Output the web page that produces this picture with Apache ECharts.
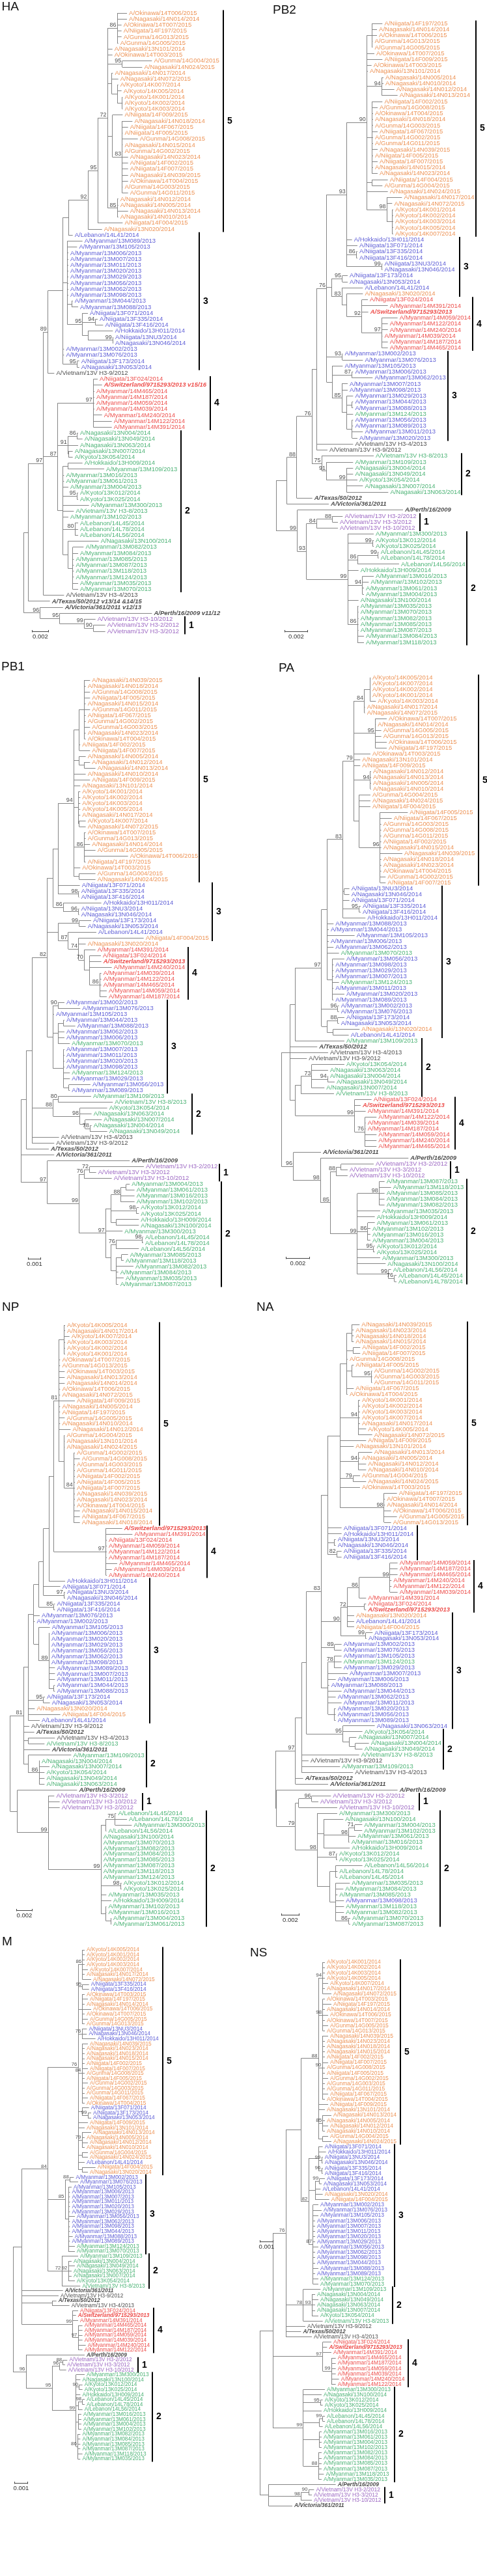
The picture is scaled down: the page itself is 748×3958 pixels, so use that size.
<!DOCTYPE html>
<html><head><meta charset="utf-8">
<script src="https://cdn.jsdelivr.net/npm/echarts/dist/echarts.min.js"></script>
<style>html,body{margin:0;padding:0;background:#fff}#c{width:748px;height:3958px}</style>
</head><body><div id="c"></div>
<script>
// ---------------- DATA ----------------
const ORANGE_STRAINS = ['A/Okinawa/14T006/2015','A/Nagasaki/14N014/2014','A/Okinawa/14T007/2015','A/Niigata/14F197/2015','A/Gunma/14G013/2015','A/Gunma/14G005/2015','A/Nagasaki/13N101/2014','A/Okinawa/14T003/2015','A/Gunma/14G004/2015','A/Nagasaki/14N024/2015','A/Nagasaki/14N017/2014','A/Nagasaki/14N072/2015','A/Kyoto/14K007/2014','A/Kyoto/14K005/2014','A/Kyoto/14K001/2014','A/Kyoto/14K002/2014','A/Kyoto/14K003/2014','A/Niigata/14F009/2015','A/Nagasaki/14N018/2014','A/Niigata/14F067/2015','A/Niigata/14F005/2015','A/Gunma/14G008/2015','A/Nagasaki/14N015/2014','A/Gunma/14G002/2015','A/Nagasaki/14N023/2014','A/Niigata/14F002/2015','A/Niigata/14F007/2015','A/Nagasaki/14N039/2015','A/Okinawa/14T004/2015','A/Gunma/14G003/2015','A/Gunma/14G011/2015','A/Nagasaki/14N012/2014','A/Nagasaki/14N005/2014','A/Nagasaki/14N013/2014','A/Nagasaki/14N010/2014','A/Niigata/14F004/2015','A/Nagasaki/13N020/2014'];
const BLUE_STRAINS = ['A/Lebanon/14L41/2014','A/Myanmar/13M089/2013','A/Myanmar/13M105/2013','A/Myanmar/13M006/2013','A/Myanmar/13M007/2013','A/Myanmar/13M011/2013','A/Myanmar/13M020/2013','A/Myanmar/13M029/2013','A/Myanmar/13M056/2013','A/Myanmar/13M062/2013','A/Myanmar/13M098/2013','A/Myanmar/13M044/2013','A/Myanmar/13M088/2013','A/Niigata/13F071/2014','A/Niigata/13F335/2014','A/Niigata/13F416/2014','A/Hokkaido/13H011/2014','A/Niigata/13NU3/2014','A/Nagasaki/13N046/2014','A/Myanmar/13M002/2013','A/Myanmar/13M076/2013','A/Niigata/13F173/2014','A/Nagasaki/13N053/2014'];
const RED_STRAINS = ['A/Niigata/13F024/2014','A/Switzerland/9715293/2013','A/Myanmar/14M465/2014','A/Myanmar/14M187/2014','A/Myanmar/14M059/2014','A/Myanmar/14M039/2014','A/Myanmar/14M240/2014','A/Myanmar/14M122/2014','A/Myanmar/14M391/2014'];
const GREEN_STRAINS = ['A/Nagasaki/13N004/2014','A/Nagasaki/13N049/2014','A/Nagasaki/13N063/2014','A/Nagasaki/13N007/2014','A/Kyoto/13K054/2014','A/Hokkaido/13H009/2014','A/Myanmar/13M109/2013','A/Myanmar/13M016/2013','A/Myanmar/13M061/2013','A/Myanmar/13M004/2013','A/Kyoto/13K012/2014','A/Kyoto/13K025/2014','A/Myanmar/13M300/2013','A/Vietnam/13V H3-8/2013','A/Myanmar/13M102/2013','A/Lebanon/14L45/2014','A/Lebanon/14L78/2014','A/Lebanon/14L56/2014','A/Nagasaki/13N100/2014','A/Myanmar/13M082/2013','A/Myanmar/13M084/2013','A/Myanmar/13M085/2013','A/Myanmar/13M087/2013','A/Myanmar/13M118/2013','A/Myanmar/13M124/2013','A/Myanmar/13M035/2013','A/Myanmar/13M070/2013'];
const PURPLE_STRAINS = ['A/Vietnam/13V H3-10/2012','A/Vietnam/13V H3-2/2012','A/Vietnam/13V H3-3/2012'];
const BLACK_STRAINS = ['A/Vietnam/13V H3-9/2012','A/Vietnam/13V H3-4/2013'];
const REFERENCE_STRAINS = ['A/Texas/50/2012','A/Victoria/361/2011','A/Perth/16/2009'];
const VACCINE_KEYS = ['Switzerland','Texas','Victoria','Perth'];
const HA_SUFFIX = {Switzerland:' v15/16', Texas:' v13/14 &14/15', Victoria:' v12/13', Perth:' v11/12'};

// Trees: (children)bootstrap:divergence-from-root ; leaf key:divergence ; divergence units given by *_SCALE
const HA_SCALE = {units:75, label:'0.002'};
const HA_TREE = `(
 (
  (
   (
    (
     (
      (
       (
        (
         (14T006:475,14N014:475,14T007:450,14F197:450,14G013:450,14G005:435)86:430,
         13N101:408,14T003:408,
         (14G004:590,14N024:545)95:453,
         (14N017:410,14N072:435,(14K007:435,14K005:450,(14K001:455,14K002:455,14K003:455):453):430):405,
         (14F009:455,(14N018:500,14F067:480,14F005:455,14G008:525,14N015:455,14G002:455,14N023:480,14F002:480,14F007:480,14N039:480,14T004:480,14G003:455,14G011:480)83:453):408,
         (14N012:435,14N005:435,14N013:480,14N010:435)85:430
        )72:385,
        14F004:455
       )95:340,
       13N020:360
      )92:295,
      14L41:225
     ):205,
     (13M089:270,13M105:245,13M006:205,13M007:205,13M011:205,13M020:205,13M029:205,13M056:205,13M062:205,13M098:205,
      (13M044:225,13M088:250):220,
      (13F071:295,(13F335:340,13F416:365)94:330,(13H011:410,(13NU3:412,13N046:412)99:410):295)95:270
     ):200,
     13M002:185,13M076:185,
     (13F173:255,13N053:255)95:245
    ):180,
    H3-9:140
   )89:110,
   (
    (13F024:340,Switzerland:360,14M465:325,14M187:325,14M059:325,14M039:325,14M240:360,14M122:405,14M391:405)97:320,
    ((13N004:250,13N049:270)86:245,13N063:250,(13N007:225,13K054:225):205)91:203,
    (
     (13H009:270,13M109:370):203,
     13M016:185,13M061:185,13M004:205,
     (13K012:250,13K025:250)95:245,
     13M300:300,H3-8:230,13M102:205,
     (14L45:250,14L78:250,14L56:250)80:235,
     (13N100:345,(13M082:275,13M084:250,13M085:230,13M087:230,13M118:230,13M124:230,13M035:250,13M070:250):225):203
    ):180
   )87:155,
   H3-4:185
  )97:90,
  Texas:120
 ):20,
 (Victoria:180,(Perth:590,(H3-10:330,(H3-2:375,H3-3:375)90:320)99:278)95:165)96:75
)`;
const HA_CLADES = [['5','14T006','13N020'],['3','14L41','13N053'],['4','13F024','14M391'],['2','13N004','13M070'],['1','H3-10','H3-3']];

const PB2_SCALE = {units:106, label:'0.002'};
const PB2_TREE = `(
 (
  (
   (
    (
     (
      (
       (
        (14F197:490,14N014:465,14T006:465,14G013:445,14G005:445):442,
        14T007:453,14F009:490,14T003:440,13N101:423,
        (14N005:495,14N010:495,14N012:545,14N013:560)94:487,
        (14F002:490,14G008:468,14T004:447,14N018:447,14G003:447,14F067:468,14G002:447,14G011:447,14N039:468,14F005:447,14F007:468,14N015:447,14N023:468):442,
        (14F004:515,14G004:490):442,
        14N024:515,
        (14N017:580,14N072:535,(14K001:540,14K002:540,14K003:540,14K005:540,14K007:540):535)98:510
       )90:418,
       13H011:350,13F071:375,
       (13F335:375,13F416:375)86:370,
       (13NU3:490,13N046:490)99:487
      )93:325,
      (
       (13F173:330,13N053:330)95:305,
       (14L41:400,(13N020:400,(13F024:423,14M391:515,Switzerland:425,(14M059:560,14M122:515,14M240:515,14M039:490,14M187:515,14M465:515)97:487)92:395):325)83:303
      ):255,
      (13M002:307,13M076:400)93:305,
      (13M105:307,(13M006:355,13M062:445)87:350,(13M007:330,13M098:330,(13M029:355,(13M044:355,13M088:355):350,13M124:355,(13M056:355,13M089:355,13M011:400,13M020:375):350):325)85:303):258
     )76:233,
     H3-4:355,
     H3-9:237
    ):187,
    (H3-8:450,(13M109:355,(13N004:355,13N049:355,13K054:375,13N007:400,13N063:517)99:325)91:233)75:210
   )76:165,
   Texas:167
  )88:95,
  Victoria:243
 ):50,
 (
  Perth:585,
  (
   ((H3-2:307,H3-3:285)88:260,H3-10:285)84:187,
   (13M300:450,(13K012:450,13K025:450)99:445,((14L45:473,14L78:473)99:470,14L56:567)86:375,13H009:380,(13M016:450,13M102:427,13M061:405,13M004:405)94:398,13N100:380,(13M035:380,13M070:380,13M082:380,13M085:380,13M087:380,13M084:405,13M118:405)86:375)99:330
  )93:140
 )99:98
)`;
const PB2_CLADES = [['5','14F197','14K007'],['3','13H011','13N020'],['4','13F024','14M465'],['3','13M002','13M020'],['2','H3-8','13N063'],['1','H3-2','H3-10'],['2','13M300','13M118']];

const PB1_SCALE = {units:57, label:'0.001'};
const PB1_TREE = `(
 (
  (
   (
    (
     (
      (
       (
        (14N039:318,14N018:298,14G008:318,14F005:318,14N015:298,14G011:318,14F067:298,14G002:298,14G003:318,14N023:298,14T004:298):291,
        14F002:273,14F007:318
       ):268,
       (14N005:298,(14N012:318,14N013:343):291):268,
       14N010:298,14F009:318,13N101:273,
       (14K001:273,14K002:273,14K003:273,14K005:273,14N017:273,(14K007:298,14N072:298):268):265,
       (14T007:298,14G013:298,14N014:318,14G005:343,14T006:493,14F197:298)86:291,
       14T003:273,
       (14G004:343,14N024:343):268
      )94:243,
      13F071:271,
      (13F335:268,13F416:268)98:266
     ):171,
     (13H011:370,(13NU3:268,13N046:268)96:265)86:195
    ):148,
    (
     (13F173:323,13N053:298)99:268,
     (14L41:347,(14F004:565,13N020:298,(14M391:343,(13F024:368,Switzerland:370,14M240:418,(14M039:370,14M122:370,14M465:370,14M059:395,14M187:395)86:363):316)70:291)74:265)87:218
    ):171,
    (
     (13M002:200,13M076:273)90:171,
     13M105:152,
     ((13M044:200,13M088:250):196,13M062:200,13M006:200,13M070:225):171,
     (13M007:200,13M011:200,13M020:200,13M098:200,13M124:225,13M029:225,(13M056:320,13M089:225):221):196
    ):148
   )82:121,
   ((13M109:323,H3-8:423)80:171,(13K054:397,13N063:325,(13N007:372,(13N004:325,13N049:397)78:318):296)98:271)88:148,
   H3-4:175,
   H3-9:153
  ):51,
  Texas:128
 ):26,
 Victoria:153,
 (
  Perth:501,
  (
   ((H3-2:566,H3-3:346)72:316,H3-10:418)76:291,
   (
    (((13M004:501,13M061:523):485,13M016:523,13M102:523)88:461,(13K012:543,13K025:543)98:533,(13H009:543,13N100:543):438):415,
    13M300:468,
    (((14L45:563,14L78:563)98:560,14L56:543)76:438,((13M085:493,13M118:473):463,13M082:518,13M084:448,13M035:473,13M087:448):438):415
   )97:390
  )99:268
 )97:121
)`;
const PB1_CLADES = [['5','14N039','14N024'],['3','13F071','14F004'],['4','14M391','14M187'],['3','13M002','13M089'],['2','13M109','13N049'],['1','H3-2','H3-10'],['2','13M004','13M087']];

const PA_SCALE = {units:107, label:'0.002'};
const PA_TREE = `(
 (
  (
   (
    (
     (
      (
       ((14K005:410,14K007:410,14K002:410,14K001:410,14K003:435):408,14N017:385,14N072:385)84:382,
       (14T007:485,14N014:435,14G005:460,14G013:460,14T006:485,14F197:485)95:432,
       14T003:410,13N101:363,14F009:363,
       (14N012:413,14N013:413,14N005:413,14N010:413)94:410,
       (14G004:410,14N024:410,14F004:410,(14F005:582,14F067:508,14G003:460,14G008:460,14G011:460,14F002:460,14N015:460,14N039:557,14N018:460,14N023:460,14T004:460,14G002:480,14F007:480)96:455):358
      )79:333,
      (13NU3:313,13N046:313):290,
      13F071:313,
      (13F335:365,13F416:365)95:358,
      13H011:387
     )83:283,
     13M088:240,13M044:218,13M105:337,13M006:218,13M062:240,13M070:265,
     (13M056:290,13M098:240,13M029:240,13M007:240,13M124:265,13M011:240,13M020:290,13M089:240):235
    ):210,
    (13M002:265,13M076:265)96:260,
    ((13F173:290,13N053:265)88:260,(13N020:360,14L41:310):238):210
   )97:185,
   13M109:290
  ):63,
  Texas:165,
  H3-4:215,
  H3-9:117,
  (((13K054:290,13N063:215,(13N004:215,13N049:245)94:213,13N007:198)73:140,H3-8:242):90,(13F024:415,Switzerland:365,14M391:388,(14M122:438,14M039:388,14M187:388,14M059:438,14M240:438,14M465:438)76:385)99:337):65
 ):40,
 (
  Victoria:182,
  (
   Perth:585,
   (
    ((H3-2:425,H3-3:305):275,H3-10:305)88:253,
    ((13M087:475,13M118:505,13M085:475,13M084:475,13M082:475)98:450,13M035:455,13H009:430,(13M061:430,13M102:410,13M016:410,13M004:410)86:398,(13K012:430,13K025:430)95:425,13M300:455,13N100:480,(14L56:505,(14L45:530,14L78:530)76:520)99:493)99:350
   )85:225
  )98:180
 )96:55
)`;
const PA_CLADES = [['5','14K005','14F007'],['3','13NU3','14L41'],['2','13M109','H3-8'],['4','13F024','14M465'],['1','H3-2','H3-10'],['2','13M087','14L78']];

const NP_SCALE = {units:72, label:'0.002'};
const NP_TREE = `(
 (
  (
   (
    (
     (
      (
       (
        (
         (14K005:253,14N017:253,14K007:273,14K003:253,14K002:253,14K001:253):248,
         14T007:230,14G013:230,14T003:251,14N013:251,14N014:251,14T006:230,14N072:230,14F009:298,14N005:230,14F197:230,14G005:251,14N010:230,14N012:278,
         (14G004:251,13N101:251,14N024:251,(14G002:298,14G008:321,14G003:298,14G011:298,14F002:298,14F005:298,14F007:298,14N039:298,14N023:298,14T004:298,14N015:321,14F067:321,14N018:321)84:293):248
        )81:223,
        (Switzerland:516,14M391:563,13F024:445,14M059:445,14M122:445,14M187:445,14M465:493,14M039:468,14M240:445)97:440
       ):201,
       13H011:253
      ):178,
      13F071:231,
      (13NU3:253,13N046:253)97:248
     ):153,
     (13F335:206,13F416:206)85:201
    ):131,
    13M076:136,
    13M002:113,
    (13M105:183,(13M006:181,13M020:181,13M029:181,13M056:181,13M062:181,13M098:181,13M089:206,13M007:206,13M011:206,(13M044:206,13M088:206):201)89:178):131
   ):108,
   (13F173:160,13N053:183)95:153,
   13N020:113,
   14F004:231,
   14L41:136
  ):83,
  H3-9:88,
  Texas:111,
  (H3-4:206,H3-8:158):83,
  Victoria:183,
  (13M109:281,(13N004:136,13N007:181,13K054:158,13N049:158,13N063:158)86:133):83
 )81:61,
 (
  Perth:308,
  (
   H3-3:203,H3-10:228,H3-2:228,
   (((14L45:488,14L78:538,13M300:560)75:483,14L56:443):440,13N100:420,13M070:420,13M082:420,13M084:420,13M085:420,13M087:420,13M118:420,13M124:420,(13K012:513,13K025:513)98:508,13M035:443,13H009:466,(13M102:443,13M016:443,(13M004:466,13M061:466):463):441)99:418
  )99:175
 ):33
)`;
const NP_CLADES = [['5','14K005','14N018'],['4','Switzerland','14M240'],['3','13H011','14L41'],['2','H3-8','13N063'],['1','H3-3','H3-2'],['2','14L45','13M061']];

const NA_SCALE = {units:81, label:'0.002'};
const NA_TREE = `(
 (
  (
   (
    (
     (
      (
       ((14N039:387,14N023:360,14N018:360,14N015:360):352,(14F002:390,14F007:390):357,14G008:332,(14F005:360,(14G002:445,14G003:445,14G011:445)95:442):352,14F067:360,14T004:332):327,
       (14K001:389,14K002:389,14K003:389,14K007:389,14N017:389,14K005:417,14N072:445)94:382,
       14F009:417,13N101:360,
       (14N013:445,14N005:389,14N012:417,14N010:417)94:382,
       (14G004:389,14N024:417)79:357,
       14T003:389,
       (14F197:559,14T007:504,14N014:504,14T006:532,14G005:559,14G013:532)98:500
      ):297,
      13F071:304,13H011:304,
      (13NU3:277,13N046:277):270,
      (13F335:304,13F416:304)82:282
     ):240,
     ((((14M059:562,14M187:562,14M465:562,14M240:534,14M122:534,14M039:562)99:527,14M391:417)86:385,(13F024:417,Switzerland:417):410,13N020:362,14L41:362,14F004:362)72:330,(13F173:447,13N053:419)99:415)90:300,
     (13M002:304,13M076:304)89:272,
     ((13M105:304,13M124:304,13M029:304)78:270,13M007:332,13M006:277,13M088:247,13M044:304,13M062:277,13M011:304,(13M020:277,13M056:277,13M089:277):270):242
    )83:210,
    (13N063#b:457,13K054:400,(13N007:372,(13N004:430,13N049:400):367):340)95:310
   ):142,
   H3-8:385,H3-9:152,13M109:297,H3-4:357
  ):120,
  Texas:127,
  Victoria:242
 )97:92,
 (
  Perth:562,
  (
   ((H3-2:255,H3-3:197)96:167,H3-10:284):107,
   (13M300:284,(13N100:312,((13M004:399,13M102:399)71:365,13M061:369,13M016:340)98:337,13H009:342):222,(13K012:284,13K025:284)87:280,((14L56:400,14L78:285,14L45:285):277,(13M035:342,13M084:312,13M085:285,13M098:315,13M118:315,13M082:315,(13M070:344,13M087:344)86:337):277):250)98:192
  )79:92
 ):5
)`;
const NA_CLADES = [['5','14N039','14G013'],['','13F071','13F416'],['4','14M059','Switzerland'],['3','13N020','13N063'],['2','13K054','13M109'],['1','H3-2','H3-10'],['2','13M300','13M087']];

const M_SCALE = {units:60, label:'0.001'};
const M_TREE = `(
 (
  (
   (
    (14K005:330,14K001:330,14K002:330,14K003:330,14K007:345,14N017:330,14N072:360)86:320,
    (13F335:350,13F416:350)95:320,
    (14T003:330,14F197:345,14N014:330,14T006:360,14T007:330,14G005:345,14G013:330):318,
    (13NU3:340,13N046:340,13H011:380)76:318,
    (14N039:345,14N023:330,14N018:330,14N015:330,14F002:330,14F007:345,14G008:330,14F005:330,14G002:345,14G003:330,14G011:330,14F067:345,14T004:330)84:318,
    (13F071:350,(13F173:360,13N053:360)99:345):318,
    14F009:345,13N101:330,
    (14N013:360,14N005:330,14N012:345,14N010:330)79:318,
    (14G004:345,14N024:345):318,
    14L41:330,
    (14F004:380,13N020:345):318
   )76:300,
   (
    (13M002:280,13M076:300)88:262,
    (13M105:270,13M006:262,13M007:262,13M011:262,13M020:262,13M029:262,13M056:285,13M062:262,13M098:262,13M044:262,13M088:275,13M089:262,13M124:285,13M070:285):255
   )85:240,
   (13M109:300,(13N004:270,13N049:285,13N063:270,13N007:270,13K054:285)92:255,H3-8:310)72:225
  )84:160,
  Victoria:230,
  H3-9:210,
  (Texas:200,H3-4:260):180,
  (13F024:300,Switzerland:290,14M391:300,(14M465:320,14M187:320,14M059:320,14M039:320,14M240:335,14M122:320)97:300)99:275
 ):40,
 (
  Perth:330,
  (
   ((H3-2:250,H3-3:240)88:230,H3-10:245)96:215,
   (13M300:330,13N100:310,(13K012:320,13K025:320)90:305,13H009:310,((14L45:330,14L78:330)98:320,14L56:320):300,(13M016:315,13M061:315,13M004:315,13M102:315):300,(13M082:310,13M084:310,13M085:310,13M087:310,13M118:320,13M035:310)86:298)99:290
  )95:180
 )96:60
)`;
const M_CLADES = [['5','14K005','13N020'],['3','13M002','13M070'],['2','13M109','H3-8'],['4','13F024','14M122'],['1','H3-2','H3-10'],['2','13M300','13M035']];

const NS_SCALE = {units:60, label:'0.001'};
const NS_TREE = `(
 (
  (
   (
    (
     (14K001:300,14K002:300,14K003:300,14K005:300,14K007:315,14N017:300,14N072:330)94:290,
     (14T003:300,14F197:330,14N014:300,14T006:315,14T007:300,14G005:315,14G013:300)98:290,
     (14N039:315,14N023:300,14N018:300,14N015:300,14F002:300,14F007:315,14G008:300,14F005:300,14G002:315,14G003:300,14G011:300,14F067:315,14T004:300)90:288,
     14F009:315,13N101:300,
     (14N013:330,14N005:300,14N012:315,14N010:300)85:290,
     (14G004:315,14N024:330):290
    )88:270,
    (
     (13F071:290,13H011:305,(13NU3:290,13N046:290)99:285,(13F335:290,13F416:290)96:285):270,
     ((13F173:300,13N053:285)99:275,14L41:280,13N020:290,14F004:320):255,
     (13M002:270,13M076:285,13M105:270,13M006:255,13M007:255,13M011:255,13M020:255,13M029:255,13M056:270,13M062:255,13M098:255,13M044:255,13M088:270,13M089:255,13M124:270,13M070:270)87:245
    )82:225
   ):190,
   (13M109:280,(13N004:255,13N049:270,13N063:255,13N007:255,13K054:270)93:240,H3-8:290)78:200,
   H3-9:210,Texas:190,H3-4:240
  )76:120,
  (13F024:330,Switzerland:310,14M391:330,(14M465:350,14M187:350,14M059:350,14M039:350,14M240:365,14M122:350)99:330)97:290,
  (13M300:300,13N100:285,(13K012:290,13K025:290)95:280,13H009:285,((14L45:300,14L78:300)99:290,14L56:290):275,(13M016:285,13M061:285,13M004:285,13M102:285):275,(13M082:285,13M084:285,13M085:285,13M087:285,13M118:295,13M035:285)88:270)99:200
 ):60,
 (Perth:350,((H3-2:250,H3-3:240)90:225,H3-10:240)98:190,Victoria:150):40
)`;
const NS_CLADES = [['5','14K001','14N024'],['3','13F071','13M070'],['2','13M109','H3-8'],['4','13F024','14M122'],['2','13M300','13M035'],['1','H3-2','H3-10']];

// ---------------- LAYOUT / STYLE ----------------
const FONT = '"Liberation Sans", Arial, Helvetica, sans-serif';
const COLORS = {orange:'#E8782C', blue:'#3434CC', red:'#E8221E', green:'#22A055', purple:'#8444B4', black:'#1a1a1a'};
const PANELS = [
  {id:'HA',  tree:HA_TREE,  scale:HA_SCALE,  clades:HA_CLADES,  pads:[6,21,6,6,9],     suffix:HA_SUFFIX, px:0,   rootX:36.7, firstY:20,   lastY:970,  titleX:2.5, titleTop:1.5,  barDx:12, barIdx:103},
  {id:'PB2', tree:PB2_TREE, scale:PB2_SCALE, clades:PB2_CLADES, pads:[2,7,3,3,1,5,2],   suffix:{},        px:374, rootX:50,   firstY:36,   lastY:987,  titleX:45,  titleTop:6.5,  barDx:13, barIdx:101.2},
  {id:'PB1', tree:PB1_TREE, scale:PB1_SCALE, clades:PB1_CLADES, pads:[2,5,5,6,8,3,15],  suffix:{},        px:0,   rootX:32.3, firstY:1045, lastY:1973, titleX:2,   titleTop:1015.5, barDx:11, barIdx:98.7},
  {id:'PA',  tree:PA_TREE,  scale:PA_SCALE,  clades:PA_CLADES,  pads:[6,7,7,8,5,5],     suffix:{},        px:374, rootX:58.3, firstY:1041, lastY:1969, titleX:54,  titleTop:1017.5, barDx:7,  barIdx:99.1},
  {id:'NP',  tree:NP_TREE,  scale:NP_SCALE,  clades:NP_CLADES,  pads:[11,2,19,3,9,2],   suffix:{},        px:0,   rootX:15.7, firstY:2036, lastY:2956, titleX:3,   titleTop:1999.5, barDx:9,  barIdx:100.7},
  {id:'NA',  tree:NA_TREE,  scale:NA_SCALE,  clades:NA_CLADES,  pads:[5,6,5,8,3,8,7],   suffix:{},        px:374, rootX:49.3, firstY:2035, lastY:2956, titleX:20,  titleTop:1999.5, barDx:9,  barIdx:101.5},
  {id:'M',   tree:M_TREE,   scale:M_SCALE,   clades:M_CLADES,   pads:[6,6,6,6,6,6],     suffix:{},        px:0,   rootX:20,   firstY:2996, lastY:3778, titleX:3,   titleTop:2974, barDx:2,  barIdx:108, fs:8.3, bfs:7.8},
  {id:'NS',  tree:NS_TREE,  scale:NS_SCALE,  clades:NS_CLADES,  pads:[6,6,6,6,6,6],     suffix:{},        px:374, rootX:25,   firstY:3015, lastY:3850, titleX:10,  titleTop:2991, barDx:0,  barIdx:53, fs:8.5, bfs:8}
];

// ---------------- HELPERS ----------------
function keyOf(name){ const p=name.split('/'); if (['Texas','Victoria','Perth','Switzerland'].includes(p[1])) return p[1]; if (p[1]==='Vietnam') return p[2].split(' ')[1]; return p[2]; }
const NAME={}, GROUP={};
[['orange',ORANGE_STRAINS],['blue',BLUE_STRAINS],['red',RED_STRAINS],['green',GREEN_STRAINS],['purple',PURPLE_STRAINS],['black',BLACK_STRAINS],['black',REFERENCE_STRAINS]]
  .forEach(([g,arr])=>arr.forEach(n=>{const k=keyOf(n); NAME[k]=n; GROUP[k]=g;}));
const VACCINE = new Set(VACCINE_KEYS);
const OVR = {b:'blue', g:'green', o:'orange', r:'red', p:'purple', k:'black'};

function parseTree(str){
  const s=str.replace(/\s+/g,''); let i=0;
  function lab(){ let t=''; while(i<s.length && '(),:'.indexOf(s[i])<0) t+=s[i++]; return t; }
  function node(){
    const n={children:[]};
    if(s[i]==='('){ i++; n.children.push(node()); while(s[i]===','){ i++; n.children.push(node()); } i++; n.boot=lab(); }
    else { const t=lab().split('#'); n.key=t[0]; n.ov=t[1]; }
    n.d=0; if(s[i]===':'){ i++; n.d=parseFloat(lab()); }
    return n;
  }
  return node();
}
function layoutTree(root){
  const leaves=[], nodes=[];
  (function walk(n,parent){
    n.parent=parent;
    if(n.children.length){ n.children.forEach(c=>walk(c,n)); n.y=(n.children[0].y+n.children[n.children.length-1].y)/2; }
    else { n.y=leaves.length; leaves.push(n); }
    nodes.push(n);
  })(root,null);
  return {leaves,nodes};
}
const mctx=document.createElement('canvas').getContext('2d');
function textW(t,bold,italic,size){ mctx.font=(italic?'italic ':'')+(bold?'bold ':'')+size+'px '+FONT; return mctx.measureText(t).width; }
const crisp = v => Math.round(v-0.5)+0.5;

// ---------------- BUILD ----------------
const option={animation:false, grid:[], xAxis:[], yAxis:[], series:[], graphic:[]};
let gi=0;
PANELS.forEach(P=>{
  option.graphic.push({type:'text', x:P.px+P.titleX, y:P.titleTop, silent:true, style:{text:P.id, font:'19px '+FONT, fill:'#111', verticalAlign:'top'}});
  if(!P.tree) return;
  const LEAF_FS=P.fs||9.5, BOOT_FS=P.bfs||9;
  const root=parseTree(P.tree);
  const {leaves,nodes}=layoutTree(root);
  const nL=leaves.length;
  const left=P.px+P.rootX, width=P.px+374-left;
  const UPX=3; // divergence units per pixel
  option.grid.push({left:left, top:P.firstY, width:width, height:P.lastY-P.firstY});
  option.xAxis.push({type:'value', gridIndex:gi, min:0, max:width*UPX, show:false});
  option.yAxis.push({type:'value', gridIndex:gi, min:0, max:nL-1, inverse:true, show:false});

  const segs=[];
  nodes.forEach(n=>{
    if(n.parent) segs.push([n.parent.d,n.y,n.d,n.y]);
    if(n.children.length) segs.push([n.d,n.children[0].y,n.d,n.children[n.children.length-1].y]);
  });
  option.series.push({type:'custom', xAxisIndex:gi, yAxisIndex:gi, silent:true, clip:false, data:segs,
    renderItem:(params,api)=>{
      const a=api.coord([api.value(0),api.value(1)]), b=api.coord([api.value(2),api.value(3)]);
      const horiz = Math.abs(a[1]-b[1])<0.01;
      const x1=horiz?a[0]:crisp(a[0]), x2=horiz?b[0]:crisp(b[0]);
      const y1=horiz?crisp(a[1]):a[1], y2=horiz?crisp(b[1]):b[1];
      return {type:'line', shape:{x1:x1,y1:y1,x2:x2,y2:y2}, style:{stroke:'#858585', lineWidth:1}};
    }});

  const labelText = l => (NAME[l.key]||l.key) + (P.suffix[l.key]||'');
  const leafData = leaves.map(l=>{
    const g = l.ov ? OVR[l.ov] : (GROUP[l.key]||'black');
    const v = VACCINE.has(l.key);
    return {value:[l.d,l.y], name:labelText(l), label:{color:COLORS[g], fontWeight:v?'bold':'normal', fontStyle:v?'italic':'normal'}};
  });
  option.series.push({type:'scatter', xAxisIndex:gi, yAxisIndex:gi, silent:true, symbolSize:0.1,
    itemStyle:{color:'rgba(0,0,0,0)'}, data:leafData,
    label:{show:true, position:'right', distance:3, fontSize:LEAF_FS, fontFamily:FONT, formatter:'{b}'}});

  const bootData = nodes.filter(n=>n.children.length && n.boot).map(n=>({value:[n.d,n.y], name:n.boot}));
  option.series.push({type:'scatter', xAxisIndex:gi, yAxisIndex:gi, silent:true, symbolSize:0.1,
    itemStyle:{color:'rgba(0,0,0,0)'}, data:bootData,
    label:{show:true, position:'left', distance:1.5, offset:[0,-4.5], fontSize:BOOT_FS, fontFamily:FONT, color:'#222', formatter:'{b}'}});

  const idx={}; leaves.forEach((l,i)=>idx[l.key]=i);
  const cladeData = P.clades.map((c,ci)=>{
    const i0=idx[c[1]], i1=idx[c[2]];
    let mx=0;
    for(let i=i0;i<=i1;i++){ const l=leaves[i]; const v=VACCINE.has(l.key); mx=Math.max(mx, l.d/UPX+3+textW(labelText(l),v,v,LEAF_FS)); }
    return [mx+P.pads[ci], i0, i1, ci];
  });
  const cl=P.clades;
  option.series.push({type:'custom', xAxisIndex:gi, yAxisIndex:gi, silent:true, clip:false, data:cladeData,
    renderItem:(params,api)=>{
      const a=api.coord([0,api.value(1)]), b=api.coord([0,api.value(2)]);
      const x=Math.round(a[0]+api.value(0)); const y1=a[1]-4.5, y2=b[1]+4.5;
      return {type:'group', children:[
        {type:'line', shape:{x1:x,y1:y1,x2:x,y2:y2}, style:{stroke:'#000', lineWidth:2}},
        {type:'text', style:{text:cl[api.value(3)][0], x:x+6, y:(y1+y2)/2, fill:'#000', font:'bold 14px '+FONT, align:'left', verticalAlign:'middle'}}
      ]};
    }});

  const sc=P.scale, dx=P.barDx;
  option.series.push({type:'custom', xAxisIndex:gi, yAxisIndex:gi, silent:true, clip:false, data:[[P.barIdx]],
    renderItem:(params,api)=>{
      const a=api.coord([0,api.value(0)]), b=api.coord([sc.units,api.value(0)]);
      const xa=Math.round(a[0]+dx)+0.5, xb=Math.round(b[0]+dx)+0.5, y=crisp(a[1]);
      return {type:'group', children:[
        {type:'line', shape:{x1:xa,y1:y,x2:xb,y2:y}, style:{stroke:'#444', lineWidth:1}},
        {type:'line', shape:{x1:xa,y1:y-2.5,x2:xa,y2:y+1}, style:{stroke:'#444', lineWidth:1}},
        {type:'line', shape:{x1:xb,y1:y-2.5,x2:xb,y2:y+1}, style:{stroke:'#444', lineWidth:1}},
        {type:'text', style:{text:sc.label, x:(xa+xb)/2, y:y+3, fill:'#333', font:'9.5px '+FONT, align:'center', verticalAlign:'top'}}
      ]};
    }});
  gi++;
});

const chart=echarts.init(document.getElementById('c'), null, {renderer:'canvas', width:748, height:3958});
chart.setOption(option);
</script></body></html>
